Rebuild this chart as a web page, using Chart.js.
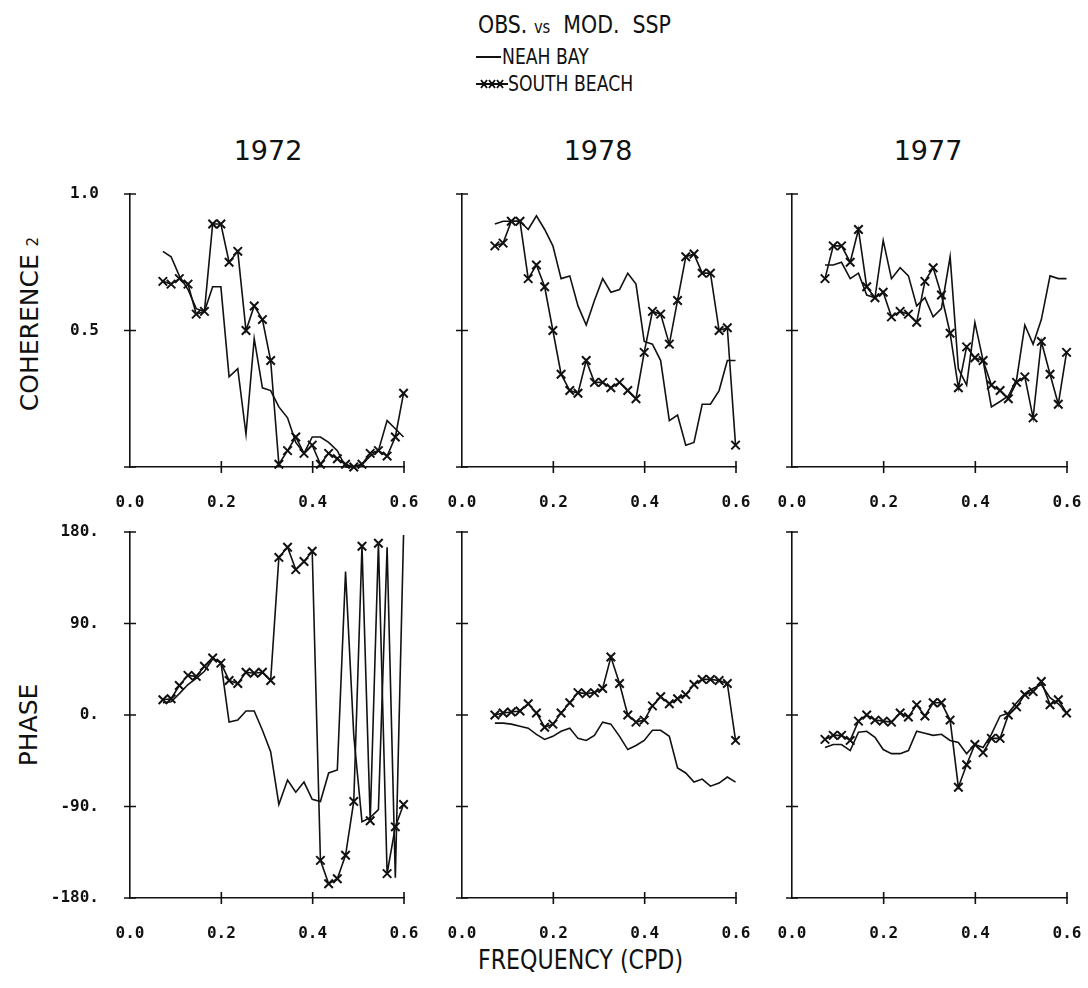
<!DOCTYPE html>
<html>
<head>
<meta charset="utf-8">
<script src="https://cdn.jsdelivr.net/npm/chart.js@4.4.1/dist/chart.umd.min.js"></script>
<style>
  body { margin: 0; background: #fff; width: 1088px; height: 988px; position: relative; overflow: hidden;
         font-family: "DejaVu Sans", sans-serif; color: #111; }
  canvas { position: absolute; }
  .txt { position: absolute; white-space: nowrap; line-height: 1; }
  .squeeze { display: inline-block; transform: scaleX(0.82); transform-origin: left center; }
  .rot { position: absolute; white-space: nowrap; line-height: 1; transform: translate(-50%, -50%) rotate(-90deg); }
</style>
</head>
<body>

<div class="txt" style="left:478px; top:12px; font-size:25px;"><span class="squeeze">OBS. <span style="font-size:18px">vs</span>&nbsp; MOD.&nbsp; SSP</span></div>

<svg style="position:absolute; left:474px; top:48px;" width="36" height="46">
  <line x1="2" y1="9" x2="27" y2="9" stroke="#111" stroke-width="2"/>
  <line x1="2" y1="36" x2="34" y2="36" stroke="#111" stroke-width="2"/>
  <path d="M7 32 L13 40 M13 32 L7 40 M15 32 L21 40 M21 32 L15 40 M23 32 L29 40 M29 32 L23 40" stroke="#111" stroke-width="1.8"/>
</svg>
<div class="txt" style="left:502px; top:47px; font-size:21px;"><span class="squeeze">NEAH BAY</span></div>
<div class="txt" style="left:508px; top:74px; font-size:21px;"><span class="squeeze">SOUTH BEACH</span></div>

<div class="txt" style="left:268px; top:137px; font-size:27px; transform:translateX(-50%);">1972</div>
<div class="txt" style="left:598px; top:137px; font-size:27px; transform:translateX(-50%);">1978</div>
<div class="txt" style="left:928px; top:137px; font-size:27px; transform:translateX(-50%);">1977</div>

<div class="rot" style="left:29px; top:324px; font-size:25px;">COHERENCE <span style="font-size:15px">2</span></div>
<div class="rot" style="left:28px; top:725px; font-size:25px;">PHASE</div>

<div class="txt" style="left:478px; top:946px; font-size:27px;"><span class="squeeze">FREQUENCY (CPD)</span></div>

<canvas id="c72coh"></canvas>
<canvas id="c78coh"></canvas>
<canvas id="c77coh"></canvas>
<canvas id="c72pha"></canvas>
<canvas id="c78pha"></canvas>
<canvas id="c77pha"></canvas>

<script>
// frequencies (cpd) shared by every curve
const FREQ = [0.072, 0.090, 0.108, 0.127, 0.145, 0.163, 0.181, 0.199, 0.217, 0.236,
              0.254, 0.272, 0.290, 0.308, 0.326, 0.345, 0.363, 0.381, 0.399, 0.417,
              0.435, 0.454, 0.472, 0.490, 0.508, 0.526, 0.544, 0.563, 0.581, 0.599];

const X_TICKS = [0.0, 0.2, 0.4, 0.6];
const COH_TICKS = [0.0, 0.5, 1.0];
const PHASE_TICKS = [-180, -90, 0, 90, 180];

// coherence squared
const coh72Neah  = [0.79, 0.77, 0.70, 0.65, 0.58, 0.57, 0.66, 0.66, 0.33, 0.36, 0.12, 0.47, 0.29, 0.28, 0.22,
                    0.18, 0.09, 0.05, 0.11, 0.11, 0.09, 0.06, 0.00, 0.00, 0.01, 0.04, 0.06, 0.17, 0.14, 0.11];
const coh72South = [0.68, 0.67, 0.69, 0.67, 0.56, 0.57, 0.89, 0.89, 0.75, 0.79, 0.50, 0.59, 0.54, 0.39, 0.01,
                    0.06, 0.11, 0.05, 0.08, 0.01, 0.05, 0.03, 0.01, 0.00, 0.01, 0.05, 0.06, 0.04, 0.11, 0.27];
const coh78Neah  = [0.89, 0.90, 0.90, 0.90, 0.87, 0.92, 0.87, 0.81, 0.69, 0.70, 0.59, 0.52, 0.61, 0.69, 0.64,
                    0.65, 0.71, 0.67, 0.46, 0.45, 0.39, 0.17, 0.19, 0.08, 0.09, 0.23, 0.23, 0.28, 0.39, 0.39];
const coh78South = [0.81, 0.82, 0.90, 0.90, 0.69, 0.74, 0.66, 0.50, 0.34, 0.28, 0.27, 0.39, 0.31, 0.31, 0.29,
                    0.31, 0.28, 0.25, 0.42, 0.57, 0.56, 0.45, 0.61, 0.77, 0.78, 0.71, 0.71, 0.50, 0.51, 0.08];
const coh77Neah  = [0.74, 0.74, 0.75, 0.69, 0.71, 0.63, 0.62, 0.83, 0.69, 0.73, 0.70, 0.59, 0.62, 0.55, 0.58,
                    0.77, 0.36, 0.30, 0.53, 0.39, 0.22, 0.24, 0.26, 0.32, 0.52, 0.45, 0.54, 0.70, 0.69, 0.69];
const coh77South = [0.69, 0.81, 0.81, 0.75, 0.87, 0.66, 0.62, 0.64, 0.55, 0.57, 0.56, 0.53, 0.68, 0.73, 0.63,
                    0.49, 0.29, 0.44, 0.40, 0.39, 0.30, 0.28, 0.25, 0.31, 0.33, 0.18, 0.46, 0.34, 0.23, 0.42];

// phase (degrees)
const pha72Neah  = [12, 13, 21, 30, 36, 43, 55, 52, -7, -5, 4, 4, -15, -36, -88,
                    -64, -76, -66, -83, -85, -57, -54, 141, -20, -105, -101, -93, 165, -160, 177];
const pha72South = [15, 16, 29, 39, 38, 48, 56, 51, 34, 31, 42, 41, 42, 34, 155,
                    165, 143, 151, 161, -143, -166, -161, -138, -85, 166, -104, 169, -156, -110, -88];
const pha78Neah  = [-8, -8, -9, -11, -13, -19, -24, -21, -16, -13, -23, -25, -20, -7, -9,
                    -21, -34, -30, -25, -15, -15, -21, -52, -57, -66, -63, -70, -67, -61, -66];
const pha78South = [0, 2, 3, 4, 11, 2, -12, -9, 2, 12, 22, 21, 22, 26, 57,
                    31, 0, -7, -5, 9, 18, 11, 16, 20, 30, 35, 35, 34, 31, -25];
const pha77Neah  = [-32, -29, -29, -35, -17, -16, -22, -34, -38, -38, -35, -16, -18, -20, -19,
                    -25, -27, -38, -29, -32, -19, -1, 2, 12, 21, 26, 30, 17, 11, 2];
const pha77South = [-24, -20, -20, -25, -6, 0, -5, -6, -7, 2, -2, 10, -1, 12, 12,
                    -5, -71, -49, -29, -37, -23, -23, 0, 8, 20, 23, 33, 10, 15, 2];

const INK = "#111";
const TICK_FONT = { family: "'DejaVu Sans Mono', monospace", size: 16, weight: "bold" };

// tick marks that cross the axis line, like the plotter drew them
const crossTicks = {
  id: "crossTicks",
  afterDraw(chart) {
    const { ctx, chartArea } = chart;
    const xs = chart.scales.x;
    const ys = chart.scales.y;
    ctx.save();
    ctx.strokeStyle = INK;
    ctx.lineWidth = 1.6;
    ctx.beginPath();
    xs.ticks.forEach((t) => {
      if (t.value === xs.min) return;
      const px = xs.getPixelForValue(t.value);
      ctx.moveTo(px, chartArea.bottom - 6);
      ctx.lineTo(px, chartArea.bottom + 6);
    });
    ys.ticks.forEach((t) => {
      const py = ys.getPixelForValue(t.value);
      ctx.moveTo(chartArea.left - 6, py);
      ctx.lineTo(chartArea.left + 6, py);
    });
    ctx.stroke();
    ctx.restore();
  },
};

function pairs(values) {
  return values.map((v, i) => ({ x: FREQ[i], y: v }));
}

function makePanel(id, axisLeft, plotTop, plotW, plotH, neah, south, yTicks, showYLabels, fmt) {
  const canvas = document.getElementById(id);
  canvas.width = 110 + plotW + 24;
  canvas.height = 15 + plotH + 40;
  canvas.style.left = (axisLeft - 110) + "px";
  canvas.style.top = (plotTop - 15) + "px";

  new Chart(canvas, {
    type: "line",
    data: {
      datasets: [
        {
          label: "NEAH BAY",
          data: pairs(neah),
          borderColor: INK,
          borderWidth: 1.6,
          pointRadius: 0,
          tension: 0,
          clip: false,
        },
        {
          label: "SOUTH BEACH",
          data: pairs(south),
          borderColor: INK,
          borderWidth: 1.6,
          pointStyle: "crossRot",
          pointRadius: 6,
          pointBorderWidth: 2,
          pointBorderColor: INK,
          tension: 0,
          clip: false,
        },
      ],
    },
    options: {
      responsive: false,
      animation: false,
      devicePixelRatio: 1,
      layout: { padding: { top: 15, right: 24, left: 0, bottom: 0 } },
      plugins: { legend: { display: false }, tooltip: { enabled: false } },
      scales: {
        x: {
          type: "linear",
          min: X_TICKS[0],
          max: X_TICKS[X_TICKS.length - 1],
          afterBuildTicks: (s) => { s.ticks = X_TICKS.map((v) => ({ value: v })); },
          ticks: {
            callback: (v) => v.toFixed(1),
            padding: 18,
            font: TICK_FONT,
            color: INK,
            maxRotation: 0,
            autoSkip: false,
          },
          grid: { display: false },
          border: { color: INK, width: 1.6 },
          afterFit: (s) => { s.height = 40; s.paddingLeft = 0; s.paddingRight = 0; },
        },
        y: {
          type: "linear",
          min: yTicks[0],
          max: yTicks[yTicks.length - 1],
          afterBuildTicks: (s) => { s.ticks = yTicks.map((v) => ({ value: v })); },
          ticks: {
            display: showYLabels,
            callback: fmt,
            padding: 23,
            font: TICK_FONT,
            color: INK,
            autoSkip: false,
          },
          grid: { display: false },
          border: { color: INK, width: 1.6 },
          afterFit: (s) => { s.width = 110; s.paddingTop = 0; s.paddingBottom = 0; },
        },
      },
    },
    plugins: [crossTicks],
  });
}

const cohFmt = (v) => (v === 0 ? "" : v.toFixed(1));
const phaFmt = (v) => v + ".";

makePanel("c72coh", 130, 194, 274, 273, coh72Neah, coh72South, COH_TICKS, true, cohFmt);
makePanel("c78coh", 462, 194, 274, 273, coh78Neah, coh78South, COH_TICKS, false, cohFmt);
makePanel("c77coh", 792, 194, 275, 273, coh77Neah, coh77South, COH_TICKS, false, cohFmt);
makePanel("c72pha", 130, 532, 274, 366, pha72Neah, pha72South, PHASE_TICKS, true, phaFmt);
makePanel("c78pha", 462, 532, 274, 366, pha78Neah, pha78South, PHASE_TICKS, false, phaFmt);
makePanel("c77pha", 792, 532, 275, 366, pha77Neah, pha77South, PHASE_TICKS, false, phaFmt);
</script>
</body>
</html>
